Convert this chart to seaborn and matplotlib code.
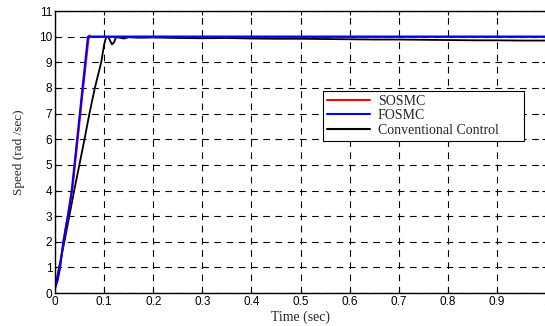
import numpy as np
import pandas as pd
import matplotlib
matplotlib.use("Agg")
import matplotlib.pyplot as plt
import seaborn as sns

# ---- data ----
t_sosmc = [0.0, 0.005, 0.01, 0.017, 0.026, 0.035, 0.046, 0.057, 0.068, 0.070, 0.072, 0.08, 0.2, 0.4, 0.6, 0.8, 1.0]
v_sosmc = [0.2, 0.5, 1.0, 2.0, 3.0, 4.0, 6.0, 8.0, 9.9, 10.05, 10.0, 10.0, 10.0, 10.0, 10.0, 10.0, 10.0]

t_fosmc = [0.0, 0.005, 0.01, 0.017, 0.026, 0.034, 0.045, 0.056, 0.067, 0.08, 0.2, 0.4, 0.6, 0.8, 1.0]
v_fosmc = [0.2, 0.5, 1.0, 2.0, 3.0, 4.0, 6.0, 8.0, 10.0, 10.0, 10.0, 10.0, 10.0, 10.0, 10.0]

t_conv = [0.0, 0.008, 0.019, 0.029, 0.039, 0.0495, 0.06, 0.07, 0.081, 0.094, 0.100,
          0.104, 0.108, 0.112, 0.116, 0.120, 0.124, 0.130, 0.140, 0.150, 0.170, 0.200,
          0.250, 0.300, 0.350, 0.400, 0.450, 0.500, 0.550, 0.600, 0.650, 0.700,
          0.750, 0.800, 0.850, 0.900, 0.950, 1.000]
v_conv = [0.2, 1.0, 2.0, 3.0, 4.0, 5.0, 6.0, 7.0, 8.0, 9.0, 9.7,
          9.98, 10.0, 9.85, 9.7, 9.78, 9.98, 9.97, 9.93, 9.98, 9.96, 9.97,
          9.95, 9.94, 9.95, 9.93, 9.92, 9.92, 9.91, 9.90, 9.89, 9.89,
          9.88, 9.87, 9.86, 9.86, 9.85, 9.85]

series_names = ["SOSMC", "FOSMC", "Conventional Control"]
colors = ["#ff0000", "#0000ff", "#000000"]

x_ticks = [0, 0.1, 0.2, 0.3, 0.4, 0.5, 0.6, 0.7, 0.8, 0.9, 1]
x_ticklabels = ["0", "0.1", "0.2", "0.3", "0.4", "0.5", "0.6", "0.7", "0.8", "0.9", "1"]
y_ticks = list(range(0, 12))

df = pd.concat([
    pd.DataFrame({"t": t_sosmc, "v": v_sosmc, "s": series_names[0]}),
    pd.DataFrame({"t": t_fosmc, "v": v_fosmc, "s": series_names[1]}),
    pd.DataFrame({"t": t_conv, "v": v_conv, "s": series_names[2]}),
], ignore_index=True)

sns.set_style("white")
fig = plt.figure(figsize=(5.45, 3.26), dpi=100)
ax = fig.add_axes([0.101, 0.101, 0.901, 0.865])

lw = {"SOSMC": 1.5, "FOSMC": 1.5, "Conventional Control": 1.3}
for name, col in zip([series_names[2], series_names[0], series_names[1]],
                     [colors[2], colors[0], colors[1]]):
    sns.lineplot(data=df[df["s"] == name], x="t", y="v", color=col,
                 linewidth=lw[name], estimator=None, sort=False, ax=ax,
                 label=name, legend=False)

ax.set_xlim(0, 1)
ax.set_ylim(0, 11)
ax.set_xticks(x_ticks)
ax.set_xticklabels(x_ticklabels, family="Liberation Sans", fontsize=8.5)
ax.set_yticks(y_ticks)
ax.set_yticklabels([str(y) for y in y_ticks], family="Liberation Sans", fontsize=8.5)
ax.tick_params(direction="in", length=3, width=0.8, top=True, right=True,
               bottom=True, left=True, pad=2, colors="black")
ax.grid(True, color="black", linestyle=(0, (6, 5)), linewidth=0.8)

for sp in ax.spines.values():
    sp.set_visible(True)
    sp.set_color("black")
    sp.set_linewidth(1.0)

ax.set_xlabel("Time (sec)", family="Liberation Serif", fontsize=10, labelpad=2)
ax.set_ylabel("Speed (rad /sec)", family="Liberation Serif", fontsize=9.5, labelpad=10)

handles = [plt.Line2D([], [], color=c, linewidth=1.5) for c in colors]
leg = ax.legend(handles, series_names, loc="upper left", mode="expand",
                bbox_to_anchor=(0.546, 0.54, 0.408, 0.178),
                prop={"family": "Liberation Serif", "size": 10},
                frameon=True, fancybox=False, edgecolor="black", framealpha=1,
                handlelength=3.1, borderpad=0.3, labelspacing=0.1, handletextpad=0.55,
                borderaxespad=0)
leg.get_frame().set_linewidth(0.8)

fig.savefig("out.png", dpi=100)
